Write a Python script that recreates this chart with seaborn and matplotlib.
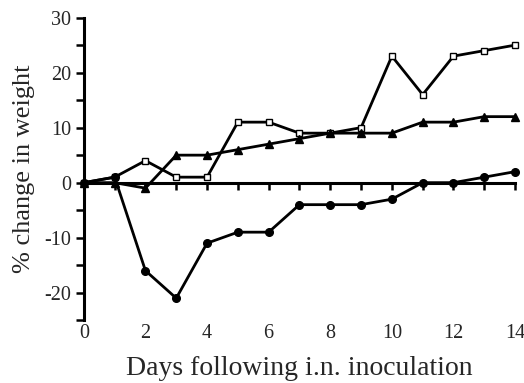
import matplotlib
matplotlib.use("Agg")
import matplotlib.pyplot as plt
import seaborn as sns
import pandas as pd

days = list(range(15))
squares = [0, 1, 4, 1, 1, 11, 11, 9, 9, 10, 23, 16, 23, 24, 25]
triangles = [0, 0, -1, 5, 5, 6, 7, 8, 9, 9, 9, 11, 11, 12, 12]
circles = [0, 1, -16, -21, -11, -9, -9, -4, -4, -4, -3, 0, 0, 1, 2]
x_ticklabels = ["0", "2", "4", "6", "8", "10", "12", "14"]

sns.set_style("white")
plt.rcParams["font.family"] = ["Liberation Serif", "DejaVu Serif"]

fig = plt.figure(figsize=(5.24, 3.83), dpi=100)
ax = fig.add_axes([0.160, 0.164, 0.823, 0.790])

series = [
    (squares, "s", "white", 5.0),
    (triangles, "^", "black", 5.5),
    (circles, "o", "black", 5.5),
]
for vals, mk, fc, ms in series:
    df = pd.DataFrame({"day": days, "val": vals})
    sns.lineplot(data=df, x="day", y="val", ax=ax, color="black", lw=2.0,
                 marker=mk, markerfacecolor=fc, markeredgecolor="black",
                 markeredgewidth=1.0, markersize=ms, clip_on=False, zorder=3)

ax.set_xlim(0, 14)
ax.set_ylim(-25, 30)
ax.set_xlabel("")
ax.set_ylabel("% change in weight", fontsize=19, labelpad=7)

for s in ["top", "right"]:
    ax.spines[s].set_visible(False)
ax.spines["left"].set_linewidth(2.2)
ax.spines["left"].set_color("black")
ax.spines["bottom"].set_position(("data", 0))
ax.spines["bottom"].set_linewidth(2.2)
ax.spines["bottom"].set_color("black")

ax.set_xticks(range(15))
ax.tick_params(axis="x", direction="out", length=5, width=1.8, color="black",
               labelbottom=False, bottom=True)
ax.set_yticks(range(-25, 31, 5))
ax.set_yticklabels(["" if v % 10 else str(v) for v in range(-25, 31, 5)])
ax.tick_params(axis="y", direction="out", length=6, width=1.8, color="black",
               labelsize=14.5, pad=3, left=True)

sec = ax.secondary_xaxis(0)
sec.set_xticks(range(0, 15, 2))
sec.set_xticklabels(x_ticklabels)
sec.tick_params(length=0, labelsize=14.5, pad=3)
sec.spines["bottom"].set_visible(False)
sec.set_xlabel("Days following i.n. inoculation", fontsize=20, labelpad=9)

fig.savefig("out.png", dpi=100)
